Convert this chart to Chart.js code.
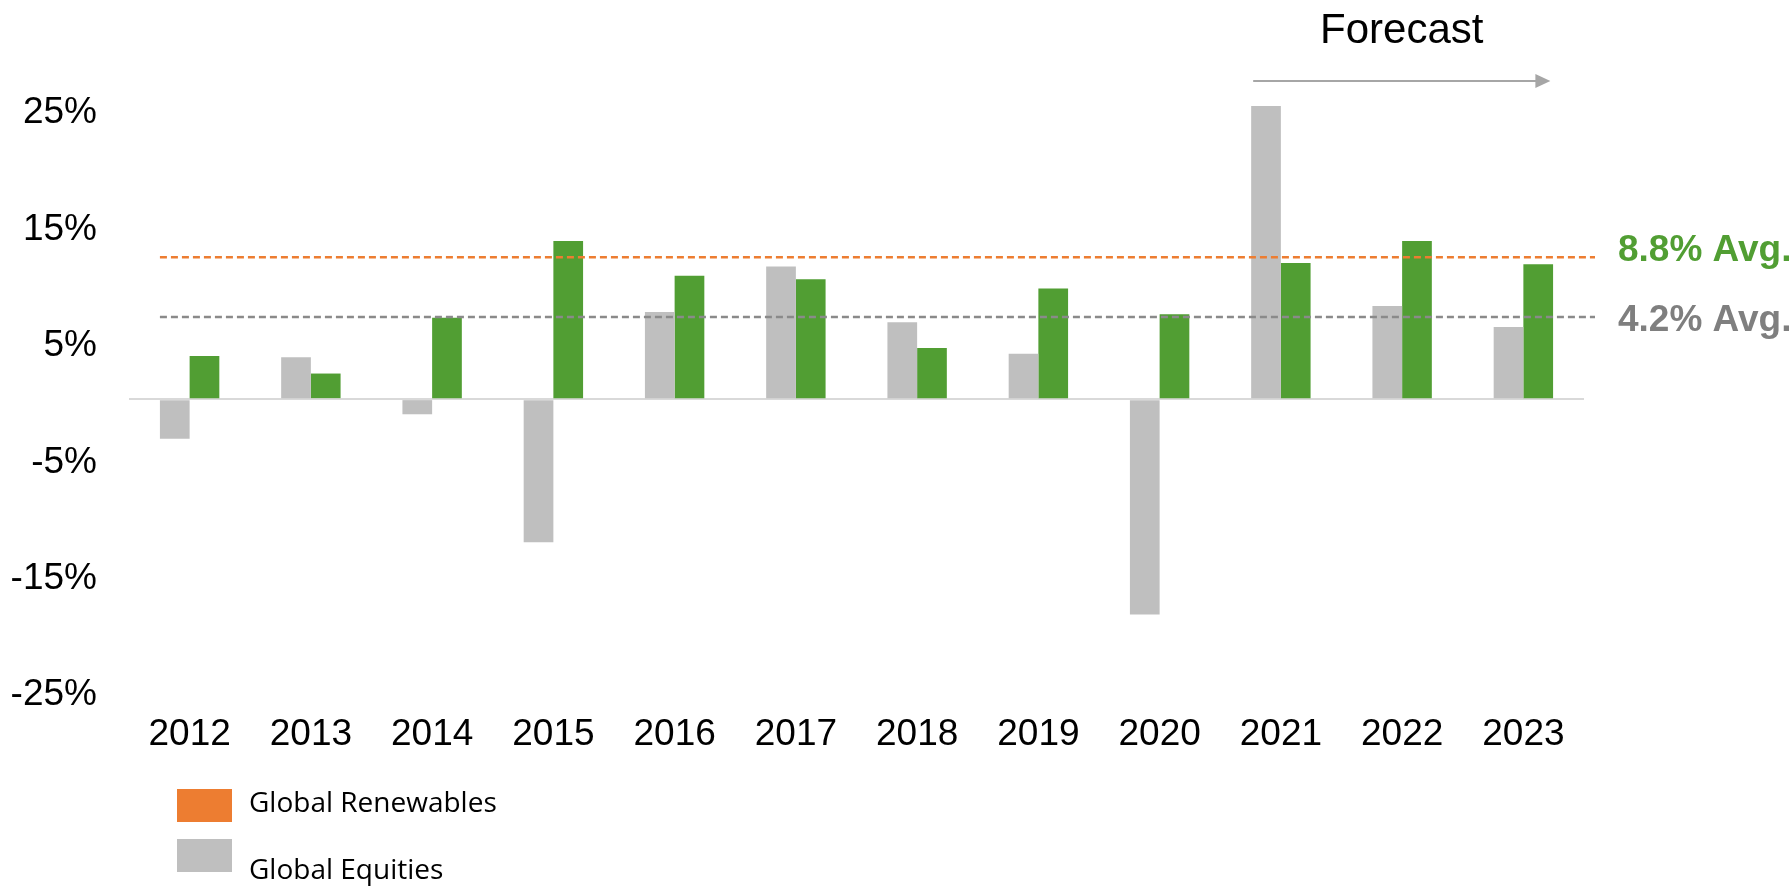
<!DOCTYPE html>
<html>
<head>
<meta charset="utf-8">
<script src="https://cdn.jsdelivr.net/npm/chart.js@4"></script>
<style>
  html, body { margin: 0; padding: 0; background: #fff; }
  #wrap { width: 1792px; height: 894px; position: relative; }
</style>
</head>
<body>
<div id="wrap"><canvas id="chart"></canvas></div>
<script>
// Years on the x axis
const years = ['2012', '2013', '2014', '2015', '2016', '2017', '2018', '2019', '2020', '2021', '2022', '2023'];
// Annual returns, in percent
const equities = [-3.4, 3.6, -1.3, -12.3, 7.5, 11.4, 6.6, 3.9, -18.5, 25.2, 8.0, 6.2];
const renewables = [3.7, 2.2, 7.0, 13.6, 10.6, 10.3, 4.4, 9.5, 7.3, 11.7, 13.6, 11.6];
// y axis ticks
const yTicks = [-25, -15, -5, 0, 5, 15, 25];
// dashed average lines (where they sit on the axis) and their labels
const avgLevels = [12.2, 7.05];
const avgLabels = ['8.8% Avg.', '4.2% Avg.'];
const avgColors = ['#ed7d31', '#8a8a8a'];
const avgTextColors = ['#519e33', '#7f7f7f'];
// legend entries
const legendLabels = ['Global Renewables', 'Global Equities'];
const legendColors = ['#ed7d31', '#bfbfbf'];

const AXIS_FONT = '"Liberation Sans", Arial, sans-serif';

// dashed avg lines, forecast arrow, side labels and legend
const extrasPlugin = {
  id: 'extras',
  afterDatasetsDraw(chart) {
    const ctx = chart.ctx;
    const x = chart.scales.x;
    const y = chart.scales.y;
    const area = chart.chartArea;
    const firstBar = chart.getDatasetMeta(0).data[0];
    const startX = firstBar.x - firstBar.width / 2;

    ctx.save();
    avgLevels.forEach((lvl, i) => {
      const py = y.getPixelForValue(lvl);
      ctx.strokeStyle = avgColors[i];
      ctx.lineWidth = 2.5;
      ctx.setLineDash([7, 4]);
      ctx.beginPath();
      ctx.moveTo(startX, py);
      ctx.lineTo(area.right + 11, py);
      ctx.stroke();

      ctx.setLineDash([]);
      ctx.fillStyle = avgTextColors[i];
      ctx.font = 'bold 37px ' + AXIS_FONT;
      ctx.textBaseline = 'middle';
      ctx.textAlign = 'left';
      ctx.fillText(avgLabels[i], area.right + 34, py + (i === 0 ? -6 : 4));
    });

    // forecast arrow over 2021-2023
    const fBar = chart.getDatasetMeta(0).data[9];
    const ax0 = fBar.x - fBar.width / 2 + 2;
    const ax1 = x.getPixelForValue(11) + 27;
    const ay = 81;
    ctx.strokeStyle = '#a6a6a6';
    ctx.fillStyle = '#a6a6a6';
    ctx.lineWidth = 2;
    ctx.beginPath();
    ctx.moveTo(ax0, ay);
    ctx.lineTo(ax1 - 14, ay);
    ctx.stroke();
    ctx.beginPath();
    ctx.moveTo(ax1, ay);
    ctx.lineTo(ax1 - 15, ay - 7);
    ctx.lineTo(ax1 - 15, ay + 7);
    ctx.closePath();
    ctx.fill();

    ctx.fillStyle = '#000';
    ctx.font = '42px ' + AXIS_FONT;
    ctx.textAlign = 'center';
    ctx.textBaseline = 'middle';
    ctx.fillText('Forecast', (ax0 + ax1) / 2, 31);

    // legend
    const boxY = [789, 839];
    const textY = [804, 871];
    legendLabels.forEach((lab, i) => {
      ctx.fillStyle = legendColors[i];
      ctx.fillRect(177, boxY[i], 55, 33);
      ctx.fillStyle = '#000';
      ctx.font = '28px "Open Sans", "Noto Sans", sans-serif';
      ctx.textAlign = 'left';
      ctx.textBaseline = 'middle';
      ctx.fillText(lab, 249, textY[i]);
    });
    ctx.restore();
  }
};

const ctx = document.getElementById('chart').getContext('2d');
new Chart(ctx, {
  type: 'bar',
  data: {
    labels: years,
    datasets: [
      {
        label: 'Global Equities',
        data: equities,
        backgroundColor: '#bfbfbf',
        categoryPercentage: 0.49,
        barPercentage: 1.0
      },
      {
        label: 'Global Renewables',
        data: renewables,
        backgroundColor: '#519e33',
        categoryPercentage: 0.49,
        barPercentage: 1.0
      }
    ]
  },
  options: {
    responsive: true,
    maintainAspectRatio: false,
    animation: false,
    layout: { padding: { top: 85, right: 208, left: 0, bottom: 0 } },
    plugins: {
      legend: { display: false },
      tooltip: { enabled: false }
    },
    scales: {
      x: {
        grid: { display: false, drawTicks: false },
        border: { display: false },
        ticks: {
          color: '#000',
          padding: 23,
          font: { family: AXIS_FONT, size: 37 }
        },
        afterFit(scale) { scale.height = 204; }
      },
      y: {
        min: -25,
        max: 27,
        afterBuildTicks(scale) {
          scale.ticks = yTicks.map(v => ({ value: v }));
        },
        afterFit(scale) { scale.width = 129; },
        grid: {
          drawTicks: false,
          lineWidth: 2,
          color: c => (c.tick && c.tick.value === 0 ? '#d9d9d9' : 'rgba(0,0,0,0)')
        },
        border: { display: false },
        ticks: {
          color: '#000',
          padding: 32,
          labelOffset: 5,
          font: { family: AXIS_FONT, size: 37 },
          callback: v => (v === 0 ? '' : v + '%')
        }
      }
    }
  },
  plugins: [extrasPlugin]
});
</script>
</body>
</html>
